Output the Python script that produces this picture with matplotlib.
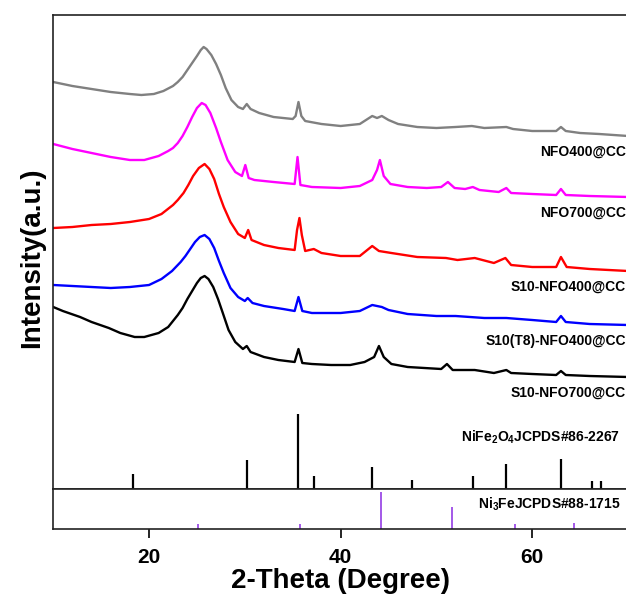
import numpy as np
import matplotlib.pyplot as plt

plt.rcParams["font.family"] = ["Liberation Sans", "DejaVu Sans"]
plt.rcParams["font.weight"] = "bold"
plt.rcParams["mathtext.fontset"] = "custom"
plt.rcParams["mathtext.rm"] = "Liberation Sans:bold"
plt.rcParams["mathtext.it"] = "Liberation Sans:bold"
plt.rcParams["mathtext.bf"] = "Liberation Sans:bold"

# XRD patterns (stacked, arbitrary units, given as pixel rows)
nfo400_tt = [10, 12, 14, 16, 18, 19.2, 20.5, 21.5, 22.5, 23.0, 23.5, 24.0, 24.5, 25.0, 25.4, 25.7,
             26.0, 26.5, 27.0, 27.5, 28.0, 28.6, 29.3, 29.8, 30.2, 30.6, 31.5, 33, 35, 35.3, 35.6,
             35.9, 36.3, 38, 40, 42, 43.3, 43.8, 44.3, 45, 46, 48, 50, 52, 53.7, 55, 57.3, 58, 60,
             62.5, 63, 63.5, 65, 67, 70]
nfo400_px = [82, 86, 89, 92, 94, 95, 94, 91, 86, 82, 77, 70, 63, 56, 50, 47,
             49, 55, 64, 75, 88, 100, 107, 109, 104, 109, 113, 117, 119, 116, 102,
             116, 121, 124, 126, 124, 116, 118, 116, 120, 124, 127, 128, 127, 126, 128, 127, 129, 131,
             131, 127, 131, 133, 134, 136]

nfo700_tt = [10, 12, 14, 16, 18, 19.5, 21, 22, 22.5, 23.0, 23.5, 24.0, 24.5, 25.0, 25.5, 25.9, 26.4,
             27.0, 27.5, 28.2, 29, 29.7, 30.05, 30.4, 31, 33, 35.2, 35.5, 35.8, 37, 40, 42, 43.3,
             43.8, 44.1, 44.5, 45.2, 47, 49, 50.5, 51.2, 51.9, 53, 53.8, 54.5, 56.5, 57.3, 57.8,
             60, 62.5, 63, 63.5, 66, 70]
nfo700_px = [144, 149, 153, 157, 160, 160, 156, 151, 148, 143, 136, 127, 117, 108, 103, 105, 113,
             128, 142, 160, 172, 176, 165, 178, 180, 182, 184, 157, 185, 187, 188, 186, 180,
             170, 160, 176, 184, 187, 188, 187, 182, 188, 189, 187, 190, 192, 188, 193,
             194, 195, 189, 195, 196, 197]

s10_400_tt = [10, 12, 14, 16, 18, 20, 21.3, 22.5, 23.0, 23.6, 24.1, 24.6, 25.2, 25.8, 26.3, 26.8,
              27.3, 27.8, 28.5, 29.3, 30, 30.35, 30.7, 32, 33.5, 35.2, 35.45, 35.7, 35.95, 36.3,
              37.2, 38, 40, 42, 43.3, 44, 45.3, 48, 51, 52.2, 54, 56, 57.2, 57.8, 60, 62.5, 63,
              63.6, 66, 70]
s10_400_px = [228, 227, 225, 224, 222, 219, 214, 205, 200, 193, 185, 176, 168, 164, 169, 179,
              194, 207, 222, 234, 238, 230, 240, 245, 248, 250, 230, 218, 235, 251,
              249, 253, 256, 256, 246, 251, 253, 257, 258, 260, 258, 263, 258, 265, 267, 267, 257,
              267, 269, 271]

t8_400_tt = [10, 12, 14, 16, 18, 20, 21.3, 22.4, 23.3, 23.8, 24.3, 24.8, 25.3, 25.8, 26.3, 26.8,
             27.3, 27.8, 28.5, 29.3, 30, 30.3, 30.8, 32, 34, 35.2, 35.6, 36, 37, 40, 42, 43.3,
             44.3, 45, 47, 50, 52, 55, 57.3, 60, 62.5, 63, 63.5, 66, 70]
t8_400_px = [285, 286, 287, 288, 287, 285, 279, 271, 262, 256, 249, 242, 237, 235, 239, 248,
             261, 273, 288, 297, 301, 298, 303, 306, 309, 311, 297, 311, 313, 313, 311, 305,
             307, 310, 314, 316, 316, 318, 318, 320, 322, 316, 322, 324, 325]

s10_700_tt = [10, 11, 12.8, 14, 15.8, 17, 18.5, 19.5, 21, 22, 23, 23.5, 24.0, 24.5, 25.0, 25.4,
              25.8, 26.2, 26.7, 27.2, 27.7, 28.3, 29, 29.8, 30.2, 30.6, 32, 33.5, 35.2, 35.6, 36,
              37, 39, 41, 42.5, 43.5, 44, 44.5, 45.3, 47, 50.5, 51.1, 51.7, 54, 56, 57.3, 57.8, 60,
              62.5, 63, 63.5, 66, 70]
s10_700_px = [307, 311, 317, 322, 328, 333, 337, 337, 333, 327, 315, 308, 299, 291, 283, 278,
              276, 279, 287, 299, 313, 330, 342, 349, 346, 352, 357, 360, 362, 349, 363,
              364, 365, 365, 362, 357, 346, 357, 364, 367, 369, 364, 370, 370, 373, 370, 373, 374,
              375, 371, 375, 376, 377]

curves = [
    ("NFO400@CC", "#808080", nfo400_tt, nfo400_px, 152),
    ("NFO700@CC", "#ff00ff", nfo700_tt, nfo700_px, 213),
    ("S10-NFO400@CC", "#ff0000", s10_400_tt, s10_400_px, 287),
    ("S10(T8)-NFO400@CC", "#0000ff", t8_400_tt, t8_400_px, 341),
    ("S10-NFO700@CC", "#000000", s10_700_tt, s10_700_px, 393),
]

# reference patterns
nife2o4_pos = [18.3, 30.2, 35.5, 37.2, 43.3, 47.4, 53.8, 57.3, 63.0, 66.2, 67.2]
nife2o4_h = [15, 29, 75, 13, 22, 8.5, 13, 25, 30, 8, 8]
ni3fe_pos = [25.1, 35.8, 44.2, 51.6, 58.2, 64.4]
ni3fe_h = [5, 5, 37, 22, 5.5, 6]

BASE = 488.5  # pixel row of the divider line

fig = plt.figure(figsize=(6.26, 5.99), dpi=100)
W = (628 - 53.25) / 626
ax = fig.add_axes([53.25 / 626, 1 - 488.5 / 599, W, (488.5 - 14.7) / 599])
axb = fig.add_axes([53.25 / 626, 1 - 529 / 599, W, 40.5 / 599])

for name, col, tt, px, ly in curves:
    ax.plot(tt, BASE - np.array(px), color=col, lw=1.7)
    ax.text(69.8, BASE - ly, name, ha="right", va="center", fontsize=10, fontweight="bold")

ax.vlines(nife2o4_pos, 0, nife2o4_h, color="black", lw=1.6)
ax.text(69.2, BASE - 437, r"NiFe$_2$O$_4$JCPDS#86-2267", ha="right", va="center", fontsize=10)

axb.vlines(ni3fe_pos, 0, ni3fe_h, color="#8a2be2", lw=1.1)
axb.text(69.2, 25, r"Ni$_3$FeJCPDS#88-1715", ha="right", va="center", fontsize=10)

ax.set_xlim(10, 70)
ax.set_ylim(0, BASE - 14.7)
axb.set_xlim(10, 70)
axb.set_ylim(0, 40.5)

for a in (ax, axb):
    for s in a.spines.values():
        s.set_linewidth(1.2)
        s.set_color("#222222")
    a.set_yticks([])
ax.set_xticks([])
axb.set_xticks([20, 40, 60])
axb.tick_params(axis="x", direction="out", length=6.5, width=1.2, labelsize=15, pad=7)
for lbl in axb.get_xticklabels():
    lbl.set_fontweight("bold")

axb.set_xlabel("2-Theta (Degree)", fontsize=20, fontweight="bold", labelpad=1)
fig.text(32 / 626, 1 - 258 / 599, "Intensity(a.u.)", rotation=90, ha="center", va="center",
         fontsize=20, fontweight="bold")

fig.savefig("out.png", dpi=100)
